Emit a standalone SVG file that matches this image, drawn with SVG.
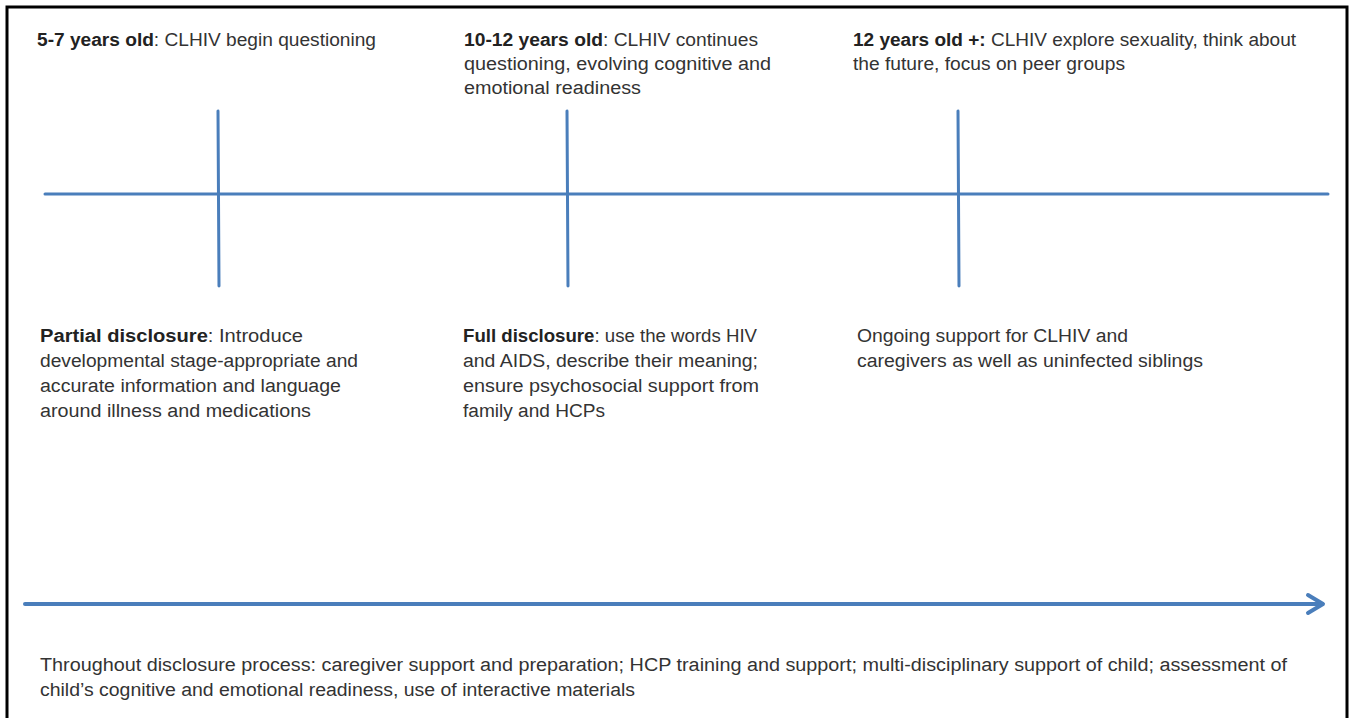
<svg xmlns="http://www.w3.org/2000/svg" width="1352" height="718" viewBox="0 0 1352 718">
<defs>
<style>
.t{font-family:"Liberation Sans",Arial,sans-serif;font-size:18px;fill:#333333}
.b{font-weight:bold;fill:#222222}
.ln{stroke:#4a7ebb;stroke-width:3;fill:none;stroke-linecap:round}
.arr{stroke:#4a7ebb;stroke-width:4;fill:none;stroke-linecap:round;stroke-linejoin:round}
</style>
</defs>
<rect width="1352" height="718" fill="#ffffff"/>
<path d="M7,720 V7 H1347 V720" fill="none" stroke="#000000" stroke-width="3"/>
<g id="connectors">
<line class="ln" x1="45" y1="194" x2="1328" y2="194"/>
<line class="ln" x1="218" y1="111" x2="219" y2="286"/>
<line class="ln" x1="567" y1="111" x2="568" y2="286"/>
<line class="ln" x1="958" y1="111" x2="959" y2="286"/>
<line class="arr" x1="25" y1="604" x2="1322" y2="604"/>
<path class="arr" d="M1308,595 L1323,604 L1308,613"/>
</g>
<g id="age-5-7">
<text class="t" x="37" y="46" textLength="339" lengthAdjust="spacingAndGlyphs"><tspan class="b">5-7 years old</tspan>: CLHIV begin questioning</text>
</g>
<g id="age-10-12">
<text class="t" x="464" y="46" textLength="294" lengthAdjust="spacingAndGlyphs"><tspan class="b">10-12 years old</tspan>: CLHIV continues</text>
<text class="t" x="464" y="70" textLength="307" lengthAdjust="spacingAndGlyphs">questioning, evolving cognitive and</text>
<text class="t" x="464" y="94" textLength="177" lengthAdjust="spacingAndGlyphs">emotional readiness</text>
</g>
<g id="age-12-plus">
<text class="t" x="853" y="46" textLength="443" lengthAdjust="spacingAndGlyphs"><tspan class="b">12 years old +:</tspan> CLHIV explore sexuality, think about</text>
<text class="t" x="853" y="70" textLength="272" lengthAdjust="spacingAndGlyphs">the future, focus on peer groups</text>
</g>
<g id="partial-disclosure">
<text class="t" x="40" y="342" textLength="263" lengthAdjust="spacingAndGlyphs"><tspan class="b">Partial disclosure</tspan>: Introduce</text>
<text class="t" x="40" y="367" textLength="318" lengthAdjust="spacingAndGlyphs">developmental stage-appropriate and</text>
<text class="t" x="40" y="392" textLength="301" lengthAdjust="spacingAndGlyphs">accurate information and language</text>
<text class="t" x="40" y="417" textLength="271" lengthAdjust="spacingAndGlyphs">around illness and medications</text>
</g>
<g id="full-disclosure">
<text class="t" x="463" y="342" textLength="294" lengthAdjust="spacingAndGlyphs"><tspan class="b">Full disclosure</tspan>: use the words HIV</text>
<text class="t" x="463" y="367" textLength="295" lengthAdjust="spacingAndGlyphs">and AIDS, describe their meaning;</text>
<text class="t" x="463" y="392" textLength="296" lengthAdjust="spacingAndGlyphs">ensure psychosocial support from</text>
<text class="t" x="463" y="417" textLength="142" lengthAdjust="spacingAndGlyphs">family and HCPs</text>
</g>
<g id="ongoing-support">
<text class="t" x="857" y="342" textLength="271" lengthAdjust="spacingAndGlyphs">Ongoing support for CLHIV and</text>
<text class="t" x="857" y="367" textLength="346" lengthAdjust="spacingAndGlyphs">caregivers as well as uninfected siblings</text>
</g>
<g id="throughout">
<text class="t" x="40" y="671" textLength="1247" lengthAdjust="spacingAndGlyphs">Throughout disclosure process: caregiver support and preparation; HCP training and support; multi-disciplinary support of child; assessment of</text>
<text class="t" x="40" y="696" textLength="595" lengthAdjust="spacingAndGlyphs">child’s cognitive and emotional readiness, use of interactive materials</text>
</g>
</svg>
